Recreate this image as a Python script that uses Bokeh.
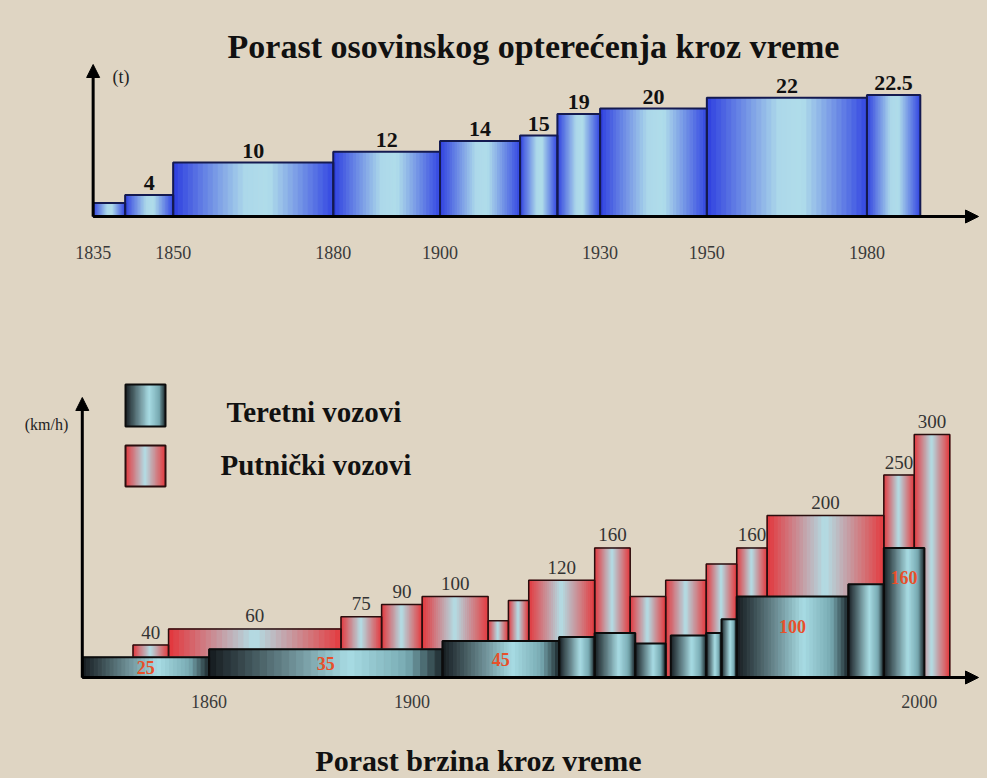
import numpy as np
from bokeh.plotting import figure
from bokeh.layouts import column
from bokeh.models import ColumnDataSource, Range1d, Arrow, NormalHead
from bokeh.core.properties import value
from bokeh.embed import file_html
from bokeh.resources import INLINE

# ---------------- data ----------------
load_title = "Porast osovinskog opterećenja kroz vreme"
load_unit = "(t)"
load_left = [1835, 1841, 1850, 1880, 1900, 1915, 1922, 1930, 1950, 1980]
load_right = [1841, 1850, 1880, 1900, 1915, 1922, 1930, 1950, 1980, 1990]
load_value = [2.5, 4, 10, 12, 14, 15, 19, 20, 22, 22.5]
load_label = ["", "4", "10", "12", "14", "15", "19", "20", "22", "22.5"]
load_ticks = [1835, 1850, 1880, 1900, 1930, 1950, 1980]

speed_title = "Porast brzina kroz vreme"
speed_unit = "(km/h)"
pass_left = [1845, 1852, 1886, 1894, 1902, 1915, 1919, 1923, 1936, 1943, 1950, 1958, 1964, 1970, 1993, 1999]
pass_right = [1852, 1886, 1894, 1902, 1915, 1919, 1923, 1936, 1943, 1950, 1958, 1964, 1970, 1993, 1999, 2006]
pass_value = [40, 60, 75, 90, 100, 70, 95, 120, 160, 100, 120, 140, 160, 200, 250, 300]
pass_label = ["40", "60", "75", "90", "100", "", "", "120", "160", "", "", "", "160", "200", "250", "300"]
freight_left = [1835, 1860, 1906, 1929, 1936, 1944, 1951, 1958, 1961, 1964, 1986, 1993]
freight_right = [1860, 1906, 1929, 1936, 1944, 1950, 1958, 1961, 1964, 1986, 1993, 2001]
freight_value = [25, 35, 45, 50, 55, 42, 52, 55, 72, 100, 115, 160]
freight_label = ["25", "35", "45", "", "", "", "", "", "", "100", "", "160"]
speed_ticks = [1860, 1900, 2000]
legend_names = ["Teretni vozovi", "Putnički vozovi"]

# ---------------- style / layout ----------------
BG = "#dfd5c3"
SERIF = value("Liberation Serif")
W = 987
H1 = 300
H2 = 478

BLUE = [(0.0, (45, 62, 224)), (0.45, (172, 216, 234)), (0.6, (176, 221, 234)), (1.0, (52, 72, 226))]
RED = [(0.0, (228, 52, 58)), (0.5, (178, 222, 230)), (1.0, (228, 60, 64))]
DARK = [(0.0, (20, 26, 30)), (0.6, (168, 220, 228)), (0.85, (120, 170, 178)), (1.0, (30, 42, 46))]

TOP_PX = 5.4      # px per tonne
BOT_PX = 0.81     # px per km/h


def interp_color(stops, f):
    for (f0, c0), (f1, c1) in zip(stops[:-1], stops[1:]):
        if f0 <= f <= f1:
            t = (f - f0) / (f1 - f0) if f1 > f0 else 0
            c = [int(round(a + (b - a) * t)) for a, b in zip(c0, c1)]
            return "#%02x%02x%02x" % tuple(c)
    return "#%02x%02x%02x" % stops[-1][1]


def gradient_bars(p, lefts, rights, tops, stops, outline, lw, bottoms=None, n=32):
    if bottoms is None:
        bottoms = [0] * len(lefts)
    L, R, T, B, C = [], [], [], [], []
    for l, r, t, b in zip(lefts, rights, tops, bottoms):
        edges = np.linspace(l, r, n + 1)
        for i in range(n):
            f = (i + 0.5) / n
            L.append(edges[i]); R.append(edges[i + 1]); T.append(t); B.append(b)
            C.append(interp_color(stops, f))
    p.quad(left=L, right=R, top=T, bottom=B, fill_color=C, line_color=C, line_width=1)
    p.quad(left=lefts, right=rights, top=tops, bottom=bottoms, fill_alpha=0,
           line_color=outline, line_width=lw)


# page-pixel -> data helpers (top chart)
def tx(px):
    return 1903.57 + (px - 458.57) / 5.3365


def ty(py):
    return (216 - py) / TOP_PX


# bottom chart
def bx(px):
    return 1920 + (px - 513) / 5.073


def by(py):
    return (677 - py) / BOT_PX


def make_fig(xr, yr, h):
    p = figure(width=W, height=h, x_range=xr, y_range=yr, output_backend="svg",
               toolbar_location=None, x_axis_type=None, y_axis_type=None,
               min_border=0, background_fill_color=BG, border_fill_color=BG,
               outline_line_color=None)
    p.grid.visible = False
    return p


# ---------------- top chart ----------------
p1 = make_fig(Range1d(tx(0), tx(W)), Range1d(ty(H1), ty(0)), H1)

gradient_bars(p1, load_left, load_right, load_value, BLUE, "#141a50", 2)

head = dict(size=13, fill_color="black", line_color="black")
p1.add_layout(Arrow(end=NormalHead(**head), x_start=load_left[0], y_start=0,
                    x_end=tx(978), y_end=0, line_width=3, line_color="black"))
p1.add_layout(Arrow(end=NormalHead(**head), x_start=load_left[0], y_start=0,
                    x_end=load_left[0], y_end=ty(64), line_width=3, line_color="black"))

src_l = ColumnDataSource(dict(x=[(a + b) / 2 for a, b in zip(load_left, load_right)],
                              y=[v + 12 / TOP_PX for v in load_value], t=load_label))
p1.text(x="x", y="y", text="t", source=src_l, text_align="center", text_baseline="middle",
        text_font=SERIF, text_font_style="bold", text_font_size="22px", text_color="#111111")

src_t = ColumnDataSource(dict(x=load_ticks, y=[ty(252)] * len(load_ticks),
                              t=[str(v) for v in load_ticks]))
p1.text(x="x", y="y", text="t", source=src_t, text_align="center", text_baseline="middle",
        text_font=SERIF, text_font_size="18px", text_color="#3a3a3a")

p1.text(x=[tx(112)], y=[ty(76)], text=[load_unit], text_align="left", text_baseline="middle",
        text_font=SERIF, text_font_size="18px", text_color="#222222")
p1.text(x=[tx(533)], y=[ty(46)], text=[load_title], text_align="center", text_baseline="middle",
        text_font=SERIF, text_font_style="bold", text_font_size="34px", text_color="#111111")

# ---------------- bottom chart ----------------
p2 = make_fig(Range1d(bx(0), bx(W)), Range1d(by(H1 + H2), by(H1)), H2)

gradient_bars(p2, pass_left, pass_right, pass_value, RED, "#2a0e0e", 1.5)
gradient_bars(p2, freight_left, freight_right, freight_value, DARK, "#0c0c0c", 2)

src_p = ColumnDataSource(dict(x=[(a + b) / 2 for a, b in zip(pass_left, pass_right)],
                              y=[v + 13 / BOT_PX for v in pass_value], t=pass_label))
p2.text(x="x", y="y", text="t", source=src_p, text_align="center", text_baseline="middle",
        text_font=SERIF, text_font_size="19px", text_color="#333333")

src_f = ColumnDataSource(dict(x=[(a + b) / 2 for a, b in zip(freight_left, freight_right)],
                              y=[v - min(v / 2, 37) for v in freight_value], t=freight_label))
p2.text(x="x", y="y", text="t", source=src_f, text_align="center", text_baseline="middle",
        text_font=SERIF, text_font_style="bold", text_font_size="18px", text_color="#e8502a")

p2.add_layout(Arrow(end=NormalHead(**head), x_start=freight_left[0], y_start=0,
                    x_end=bx(978), y_end=0, line_width=3, line_color="black"))
p2.add_layout(Arrow(end=NormalHead(**head), x_start=freight_left[0], y_start=0,
                    x_end=freight_left[0], y_end=by(397), line_width=3, line_color="black"))

src_s = ColumnDataSource(dict(x=speed_ticks, y=[by(701)] * len(speed_ticks),
                              t=[str(v) for v in speed_ticks]))
p2.text(x="x", y="y", text="t", source=src_s, text_align="center", text_baseline="middle",
        text_font=SERIF, text_font_size="18px", text_color="#3a3a3a")

p2.text(x=[bx(46)], y=[by(424)], text=[speed_unit], text_align="center", text_baseline="middle",
        text_font=SERIF, text_font_size="16px", text_color="#222222")

# legend swatches
gradient_bars(p2, [bx(125)], [bx(165)], [by(384)], DARK, "#0c0c0c", 2, bottoms=[by(426)])
gradient_bars(p2, [bx(125)], [bx(165)], [by(445)], RED, "#2a0e0e", 2, bottoms=[by(486)])
p2.text(x=[bx(226), bx(220)], y=[by(411), by(464)], text=legend_names, text_align="left",
        text_baseline="middle", text_font=SERIF, text_font_style="bold", text_font_size="29px",
        text_color="#111111")

p2.text(x=[bx(478)], y=[by(760)], text=[speed_title], text_align="center",
        text_baseline="middle", text_font=SERIF, text_font_style="bold",
        text_font_size="30px", text_color="#111111")

layout = column(p1, p2, spacing=0)
html = file_html(layout, INLINE)
html = html.replace("</head>", "<style>body{background:%s;}</style></head>" % BG)
open("out.html", "w").write(html)
